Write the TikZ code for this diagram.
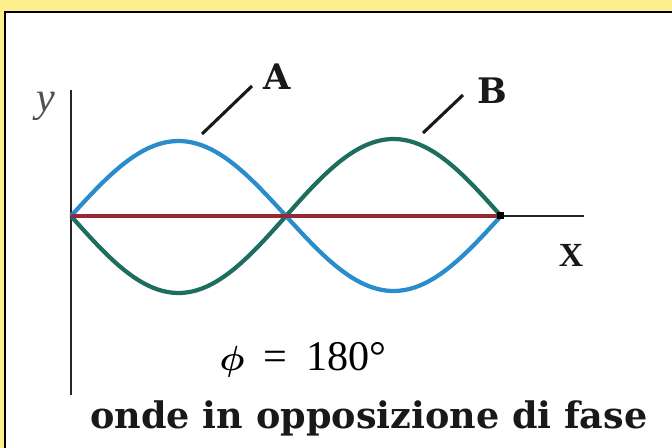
\documentclass[tikz,border=0pt]{standalone}
\usepackage{amsmath}
\usepackage{fontspec}
\setmainfont{Liberation Serif}
\newfontfamily\slabfont{DejaVu Serif}
\usetikzlibrary{positioning}
\definecolor{paper}{RGB}{253,240,140}
\definecolor{waveA}{RGB}{40,140,205}
\definecolor{waveB}{RGB}{30,110,95}
\definecolor{zeroline}{RGB}{150,40,55}
\definecolor{ygrey}{RGB}{80,80,80}

\begin{document}
\begin{tikzpicture}[x=0.025cm,y=-0.025cm]
        \useasboundingbox (0,0) rectangle (672,448);
        \clip (0,0) rectangle (672,448);
        \tikzset{
            wave/.style={line width=3pt},
            axis/.style={line width=1.8pt, black!85},
            pointer/.style={line width=2.2pt, black!90},
            tag/.style={font=\slabfont\bfseries\fontsize{25}{29}\selectfont, text=black!90}
        }
        % Frame
        \fill[paper] (0,0) rectangle (672,448);
        \draw[line width=2pt, fill=white] (5,12) rectangle (690,470);

        % Axes
        \coordinate (O) at (71,216);
        \coordinate (ytop) at (71,90);
        \coordinate (ybot) at (71,395);
        \coordinate (xend) at (584,216);
        \draw[axis] (ybot) -- (ytop);
        \draw[axis] (O) -- (xend);
        \node[font=\itshape\fontsize{30}{34}\selectfont, text=ygrey] (ylab) at (46,106) {y};
        \node[font=\bfseries\fontsize{24}{27}\selectfont, text=black!90] (xlab) at (571,255) {X};

        % Waves
        \draw[wave, waveB] plot[domain=0:360, samples=90] ({71+1.19444*\x}, {216+77*sin(\x)});
        \draw[wave, waveA] plot[domain=0:360, samples=90] ({71+1.19444*\x}, {216-75*sin(\x)});
        \coordinate (end) at (501,216);
        \draw[line width=2.4pt, zeroline] (O) -- (end);
        \fill[black] (end) ++(-4,-4) rectangle ++(7,7);

        % Labels A and B
        \node[tag] (labA) at (277,77) {A};
        \node[tag] (labB) at (492,91) {B};
        \coordinate (onA) at (202,134);
        \coordinate (tipA) at (252,86);
        \coordinate (onB) at (423,133);
        \coordinate (tipB) at (463,95);
        \draw[pointer] (onA) -- (tipA);
        \draw[pointer] (onB) -- (tipB);

        % Captions
        \node[anchor=base, font=\fontsize{30}{34}\selectfont] (phase) at (303,370) {$\boldsymbol{\phi}$\hspace{0.45em}=\hspace{0.45em}180°};
        \node[anchor=base, font=\slabfont\bfseries\fontsize{26}{30}\selectfont, text=black!90] (caption) at (369,428) {onde in opposizione di fase};
    \end{tikzpicture}
\end{document}
